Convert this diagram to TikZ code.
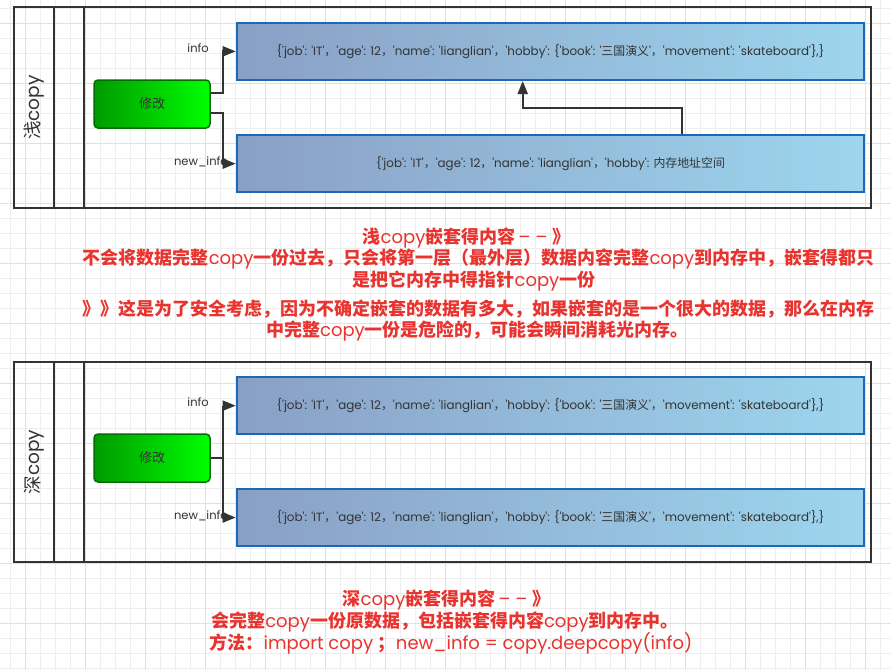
\documentclass[tikz,border=0pt]{standalone}
\usepackage{fontspec}
\setmainfont{Poppins}
\newfontfamily\cjk{Noto Sans CJK SC}
\usetikzlibrary{arrows.meta}
\definecolor{lanec}{HTML}{333333}
\definecolor{txt}{HTML}{333333}
\definecolor{gdark}{HTML}{009A00}
\definecolor{glight}{HTML}{00FF00}
\definecolor{gborder}{HTML}{006E00}
\definecolor{bleft}{HTML}{8A9FC5}
\definecolor{bright}{HTML}{9DD6EE}
\definecolor{bborder}{HTML}{1B68B5}
\definecolor{redtxt}{HTML}{E8332F}
\definecolor{gridminor}{HTML}{EEEEEE}
\definecolor{gridmajor}{HTML}{E0E0E0}
\newcommand\sq{\textquotesingle}
\newcommand\zb[1]{{\cjk\bfseries #1}}
\newcommand\zr[1]{{\cjk #1}}
\newcommand\dashes{\,–~–~\zb{》}}
\newcommand\fulltext{\{\sq job\sq: \sq IT\sq\zr{，}\sq age\sq: 12\zr{，}\sq name\sq: \sq lianglian\sq\zr{，}\sq hobby\sq: \{\sq book\sq: \sq\zr{三国演义}\sq\zr{，}\sq movement\sq: \sq skateboard\sq\},\}}
\newcommand\ptrtext{\{\sq job\sq: \sq IT\sq\zr{，}\sq age\sq: 12\zr{，}\sq name\sq: \sq lianglian\sq\zr{，}\sq hobby\sq: \zr{内存地址空间}}
\begin{document}
\begin{tikzpicture}[x=1pt,y=-1pt,
  lanebox/.style={draw=lanec, line width=2pt},
  greenbox/.style={draw=gborder, line width=1.5pt, rounded corners=4pt, left color=gdark, right color=glight, minimum width=116pt, minimum height=48pt, inner sep=0pt, font=\cjk\fontsize{13}{15}\selectfont, text=txt},
  bluebox/.style={draw=bborder, line width=2pt, left color=bleft, right color=bright, minimum width=627.6pt, minimum height=57.3pt, inner sep=0pt, text=txt, font=\fontsize{11.9}{14}\selectfont},
  conn/.style={draw=lanec, line width=2pt},
  tipped/.style={-{Triangle[length=13pt,width=10pt]}},
  lbl/.style={font=\fontsize{11.5}{13}\selectfont, text=txt, inner sep=0pt, anchor=east},
  redline/.style={text=redtxt, font=\fontsize{18}{22}\selectfont, inner sep=0pt},
  lanetitle/.style={rotate=90, font=\fontsize{18.5}{20}\selectfont, text=txt, inner sep=0pt}]
\useasboundingbox (0,0) rectangle (891,670);
\fill[white] (0,0) rectangle (891,670);
% grid
\foreach \x in {10,25,...,880} \draw[gridminor, line width=1pt] (\x,0) -- (\x,670);
\foreach \y in {8,23,...,668} \draw[gridminor, line width=1pt] (0,\y) -- (891,\y);
\foreach \x in {25,85,...,865} \draw[gridmajor, line width=1pt] (\x,0) -- (\x,670);
\foreach \y in {23,83,...,623} \draw[gridmajor, line width=1pt] (0,\y) -- (891,\y);

% ===== top lane: shallow copy =====
\draw[lanebox] (14,7) rectangle (871,208);
\draw[lanebox] (54,7) -- (54,208);
\draw[lanebox] (84,7) -- (84,208);
\node[lanetitle] (t1) at (34,107.5) {\zr{浅}copy};

\node[greenbox] (m1) at (152,104) {修改};
\node[bluebox] (a1) at (550.5,51.35) {\fulltext};
\node[bluebox] (a2) at (550.5,163.65) {\ptrtext};
\coordinate (j1) at (223,104);
\draw[conn,tipped] ([yshift=10.7pt]m1.east) -| (j1 |- a1.west) -- (a1.west);
\draw[conn,tipped] ([yshift=-9.3pt]m1.east) -| (j1 |- a2.west) -- (a2.west);
\node[lbl] (l1) at (209,48) {info};
\node[lbl] (l2) at (228,162) {new\_info};
\coordinate (k1) at (682,107.7);
\coordinate (k2) at (522.7,107.7);
\draw[conn,tipped] (a2.north -| k1) -- (k1) -- (k2) -- (a1.south -| k2);

% ===== red text 1 =====
\node[redline] (r1) at (466.5,238) {\zb{浅}copy\zb{嵌套得内容}\dashes};
\node[redline] (r2) at (478.5,259) {\zb{不会将数据完整}copy\zb{一份过去，只会将第一层（最外层）数据内容完整}copy\zb{到内存中，嵌套得都只}};
\node[redline] (r3) at (474,281) {\zb{是把它内存中得指针}copy\zb{一份}};
\node[redline] (r4) at (478.5,309) {\zb{》》这是为了安全考虑，因为不确定嵌套的数据有多大，如果嵌套的是一个很大的数据，那么在内存}};
\node[redline] (r5) at (477.5,331) {\zb{中完整}copy\zb{一份是危险的，可能会瞬间消耗光内存。}};

% ===== bottom lane: deep copy =====
\draw[lanebox] (14,362) rectangle (871,562);
\draw[lanebox] (54,362) -- (54,562);
\draw[lanebox] (84,362) -- (84,562);
\node[lanetitle] (t2) at (34,462) {\zr{深}copy};

\node[greenbox] (m2) at (152,458) {修改};
\node[bluebox] (b1) at (550.5,405.65) {\fulltext};
\node[bluebox, minimum height=57pt] (b2) at (550.5,517.5) {\fulltext};
\coordinate (j2) at (223,458);
\draw[conn] (m2.east) -- (m2.east -| j2);
\draw[conn,tipped] (b1.west -| j2) -- (b2.west -| j2) -- (b2.west);
\draw[conn,tipped] (b1.west -| j2) -- (b1.west);
\node[lbl] (l3) at (209,401.7) {info};
\node[lbl] (l4) at (228,516) {new\_info};

% ===== red text 2 =====
\node[redline] (s1) at (446.5,600) {\zb{深}copy\zb{嵌套得内容}\dashes};
\node[redline] (s2) at (445,622) {\zb{会完整}copy\zb{一份原数据，包括嵌套得内容}copy\zb{到内存中。}};
\node[redline] (s3) at (451,643) {\zb{方法：}import copy \zb{；}new\_info = copy.deepcopy(info)};
\end{tikzpicture}
\end{document}
